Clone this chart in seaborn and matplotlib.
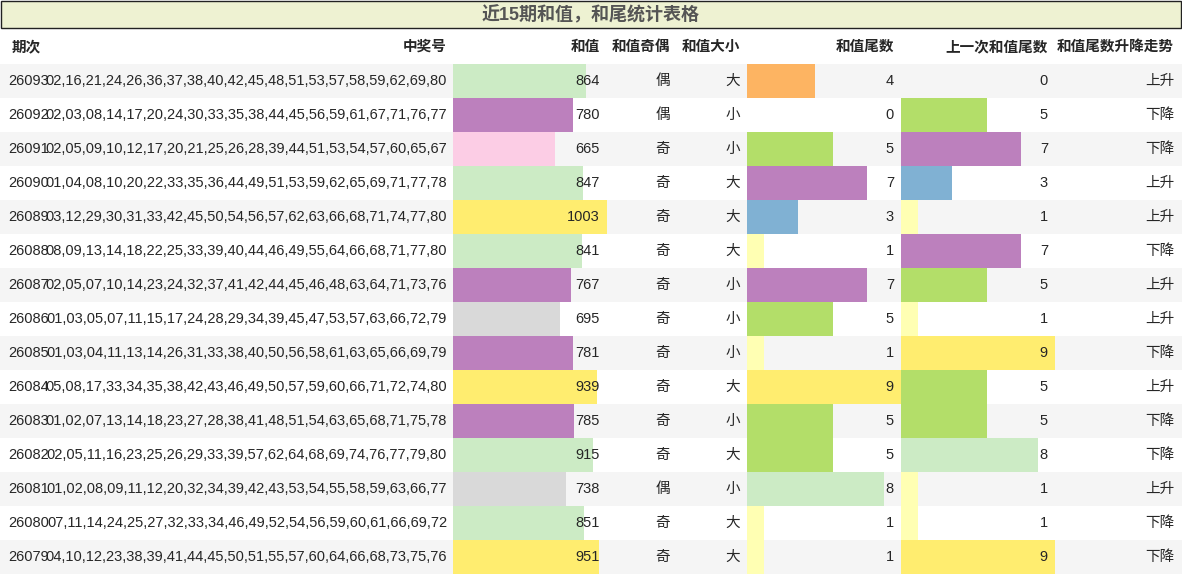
import matplotlib
matplotlib.use('Agg')
import matplotlib.pyplot as plt
import seaborn as sns
import numpy as np

sns.set_style('white')
plt.rcParams['font.family'] = ['Liberation Sans', 'Noto Sans CJK SC', 'DejaVu Sans']

title = '近15期和值，和尾统计表格'
headers = ['期次', '中奖号', '和值', '和值奇偶', '和值大小', '和值尾数', '上一次和值尾数', '和值尾数升降走势']
issues = ['26093', '26092', '26091', '26090', '26089', '26088', '26087', '26086',
          '26085', '26084', '26083', '26082', '26081', '26080', '26079']
numbers = [
    '02,16,21,24,26,36,37,38,40,42,45,48,51,53,57,58,59,62,69,80',
    '02,03,08,14,17,20,24,30,33,35,38,44,45,56,59,61,67,71,76,77',
    '02,05,09,10,12,17,20,21,25,26,28,39,44,51,53,54,57,60,65,67',
    '01,04,08,10,20,22,33,35,36,44,49,51,53,59,62,65,69,71,77,78',
    '03,12,29,30,31,33,42,45,50,54,56,57,62,63,66,68,71,74,77,80',
    '08,09,13,14,18,22,25,33,39,40,44,46,49,55,64,66,68,71,77,80',
    '02,05,07,10,14,23,24,32,37,41,42,44,45,46,48,63,64,71,73,76',
    '01,03,05,07,11,15,17,24,28,29,34,39,45,47,53,57,63,66,72,79',
    '01,03,04,11,13,14,26,31,33,38,40,50,56,58,61,63,65,66,69,79',
    '05,08,17,33,34,35,38,42,43,46,49,50,57,59,60,66,71,72,74,80',
    '01,02,07,13,14,18,23,27,28,38,41,48,51,54,63,65,68,71,75,78',
    '02,05,11,16,23,25,26,29,33,39,57,62,64,68,69,74,76,77,79,80',
    '01,02,08,09,11,12,20,32,34,39,42,43,53,54,55,58,59,63,66,77',
    '07,11,14,24,25,27,32,33,34,46,49,52,54,56,59,60,61,66,69,72',
    '04,10,12,23,38,39,41,44,45,50,51,55,57,60,64,66,68,73,75,76',
]
sums = [864, 780, 665, 847, 1003, 841, 767, 695, 781, 939, 785, 915, 738, 851, 951]
parity = ['偶', '偶', '奇', '奇', '奇', '奇', '奇', '奇', '奇', '奇', '奇', '奇', '偶', '奇', '奇']
size = ['大', '小', '小', '大', '大', '大', '小', '小', '小', '大', '小', '大', '小', '大', '大']
tails = [4, 0, 5, 7, 3, 1, 7, 5, 1, 9, 5, 5, 8, 1, 1]
prev_tails = [0, 5, 7, 3, 1, 7, 5, 1, 9, 5, 5, 8, 1, 1, 9]
trend = ['上升', '下降', '下降', '上升', '上升', '下降', '上升', '上升', '下降', '上升', '下降', '下降', '上升', '下降', '下降']

tail_colors = {0: 'none', 1: '#ffffb3', 3: '#80b1d3', 4: '#fdb462', 5: '#b3de69',
               7: '#bc80bd', 8: '#ccebc5', 9: '#ffed6f'}


def sum_color(v):
    if v < 680:
        return '#fccde5'
    if v < 750:
        return '#d9d9d9'
    if v < 800:
        return '#bc80bd'
    if v < 930:
        return '#ccebc5'
    return '#ffed6f'


W, H = 1182, 575
fig = plt.figure(figsize=(W / 100, H / 100), dpi=100)
ax = fig.add_axes([0, 0, 1, 1])
ax.set_xlim(0, W)
ax.set_ylim(H, 0)
ax.axis('off')

# title bar
ax.add_patch(plt.Rectangle((0.5, 0.5), W - 1.5, 27, facecolor='#eef2d2', edgecolor='#222222', lw=1))
ax.text(W / 2, 15, title, ha='center', va='center', fontsize=13, fontweight='bold', color='#555555')

row_h = 34
top = 64
n = len(issues)
ys = top + row_h * np.arange(n) + row_h / 2

# row stripes
for i in range(n):
    if i % 2 == 0:
        ax.add_patch(plt.Rectangle((0, top + i * row_h), W, row_h, facecolor='#f5f5f5', lw=0))

# headers
hy = 47
fs = 10.5
ax.text(26, hy, headers[0], ha='center', va='center', fontsize=fs, fontweight='bold')
hx = [447, 600, 670, 740, 894, 1048, 1174]
for x, h in zip(hx, headers[1:]):
    ax.text(x, hy, h, ha='right', va='center', fontsize=fs, fontweight='bold')

# bars
sum_x0, sum_w = 453, 154
tail_x0, tail_w = 747, 154
prev_x0 = 901
ax.barh(ys, np.array(sums) / max(sums) * sum_w, left=sum_x0, height=row_h,
        color=[sum_color(v) for v in sums], lw=0)
ax.barh(ys, np.array(tails) / 9 * tail_w, left=tail_x0, height=row_h,
        color=[tail_colors[t] for t in tails], lw=0)
ax.barh(ys, np.array(prev_tails) / 9 * tail_w, left=prev_x0, height=row_h,
        color=[tail_colors[t] for t in prev_tails], lw=0)

for i, y in enumerate(ys):
    ax.text(8, y, issues[i], ha='left', va='center', fontsize=fs)
    ax.text(447, y, numbers[i], ha='right', va='center', fontsize=fs)
    ax.text(600, y, str(sums[i]), ha='right', va='center', fontsize=fs)
    ax.text(670, y, parity[i], ha='right', va='center', fontsize=fs)
    ax.text(740, y, size[i], ha='right', va='center', fontsize=fs)
    ax.text(894, y, str(tails[i]), ha='right', va='center', fontsize=fs)
    ax.text(1048, y, str(prev_tails[i]), ha='right', va='center', fontsize=fs)
    ax.text(1174, y, trend[i], ha='right', va='center', fontsize=fs)

fig.savefig('out.png', dpi=100)
